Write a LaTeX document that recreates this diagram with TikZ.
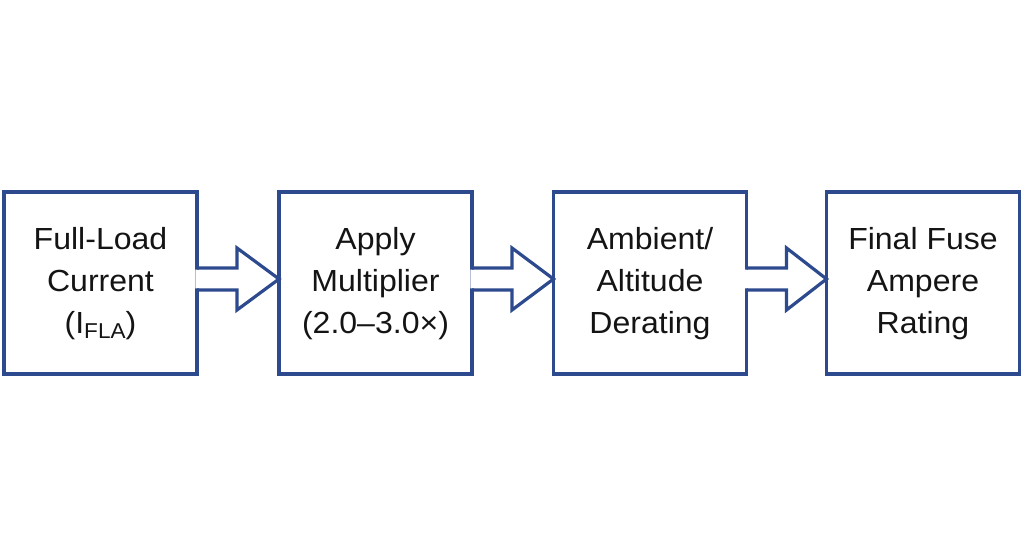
\documentclass[tikz,border=0pt]{standalone}
\usepackage{fontspec}
\setmainfont{Liberation Sans}
\usetikzlibrary{calc}
\definecolor{fuseblue}{RGB}{46,74,142}
\definecolor{txt}{RGB}{20,20,20}
\newcommand{\boxtext}[1]{\scalebox{1.05}[1]{\begin{tabular}{@{}c@{}}#1\end{tabular}}}
\begin{document}
\begin{tikzpicture}[x=1pt,y=-1pt,
  box/.style={draw=fuseblue, line width=3.2pt, fill=white, outer sep=0pt, inner sep=0pt,
    minimum width=193pt, minimum height=182pt, text=txt,
    font=\fontsize{30.5}{42}\selectfont},
  arrowline/.style={draw=fuseblue, line width=3.2pt, line join=miter}]
\useasboundingbox[fill=white] (0,0) rectangle (1024,559);
\node[box] (b1) at (100.5,283) {\boxtext{Full-Load\\Current\\(I\raisebox{-5pt}{\fontsize{21.5}{21.5}\selectfont FLA})}};
\node[box] (b2) at (375.5,283) {\boxtext{Apply\\Multiplier\\(2.0–3.0×)}};
\node[box] (b3) at (650,283) {\boxtext{Ambient/\\Altitude\\Derating}};
\node[box] (b4) at (923,283) {\boxtext{Final Fuse\\Ampere\\Rating}};
\foreach \a/\b in {b1/b2,b2/b3,b3/b4}{
  \fill[white] ($(\a.east)+(-1.7,-13.4)$) -- ($(\a.east)+(40,-13.4)$) -- ($(\a.east)+(40,-35)$)
    -- ($(\b.west)+(0,-4)$) -- ($(\a.east)+(40,27)$) -- ($(\a.east)+(40,5.4)$)
    -- ($(\a.east)+(-1.7,5.4)$) -- cycle;
  \draw[arrowline] ($(\a.east)+(0,-15)$) -- ($(\a.east)+(40,-15)$) -- ($(\a.east)+(40,-35)$)
    -- ($(\b.west)+(0,-4)$) -- ($(\a.east)+(40,27)$) -- ($(\a.east)+(40,7)$)
    -- ($(\a.east)+(0,7)$);
}
\end{tikzpicture}
\end{document}
